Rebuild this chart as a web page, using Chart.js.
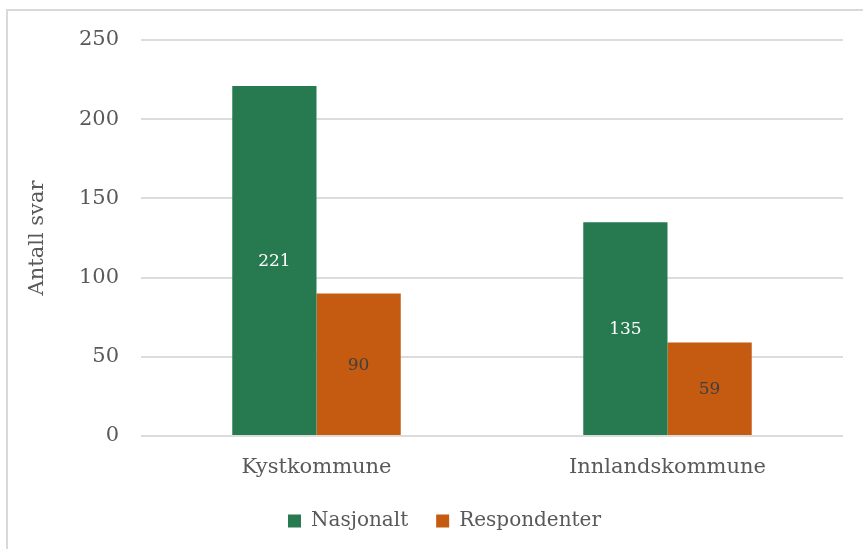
<!DOCTYPE html>
<html>
<head>
<meta charset="utf-8">
<script src="https://cdn.jsdelivr.net/npm/chart.js@4/dist/chart.umd.min.js"></script>
<style>
  html, body { margin: 0; padding: 0; background: #fff; overflow: hidden; }
  #frame { position: absolute; left: 6px; top: 9px; width: 1000px; height: 1000px;
           border-left: 2px solid #d9d9d9; border-top: 2px solid #d9d9d9; }
  #chart { position: absolute; left: 0; top: 0; }
</style>
</head>
<body>
<div id="frame"></div>
<canvas id="chart" width="863" height="549"></canvas>
<script>
// data
const categories = ['Kystkommune', 'Innlandskommune'];
const nasjonalt = [221, 135];
const respondenter = [90, 59];
const yTicks = [0, 50, 100, 150, 200, 250];

const FONT = "'DejaVu Serif', serif";

// write the value in the middle of each bar
const barLabels = {
  id: 'barLabels',
  afterDatasetsDraw(chart) {
    const ctx = chart.ctx;
    ctx.save();
    ctx.font = '17px ' + FONT;
    ctx.textAlign = 'center';
    ctx.textBaseline = 'middle';
    chart.data.datasets.forEach((ds, i) => {
      chart.getDatasetMeta(i).data.forEach((bar, j) => {
        ctx.fillStyle = ds.labelColor;
        ctx.fillText(ds.data[j], bar.x, (bar.y + bar.base) / 2 + 1);
      });
    });
    ctx.restore();
  }
};

// legend in the original sits a bit right of the plot centre
const legendShift = {
  id: 'legendShift',
  afterLayout(chart) {
    chart.legend.left += 23;
    chart.legend.right += 23;
  }
};

new Chart(document.getElementById('chart'), {
  type: 'bar',
  data: {
    labels: categories,
    datasets: [
      { label: 'Nasjonalt', data: nasjonalt, backgroundColor: '#277a50', labelColor: '#ffffff' },
      { label: 'Respondenter', data: respondenter, backgroundColor: '#c55a11', labelColor: '#404040' }
    ]
  },
  options: {
    responsive: false,
    animation: false,
    categoryPercentage: 0.48,
    barPercentage: 1,
    layout: { padding: { top: 40, right: 20, bottom: 8, left: 0 } },
    plugins: {
      tooltip: { enabled: false },
      legend: {
        position: 'bottom',
        labels: {
          font: { family: FONT, size: 20 },
          color: '#595959',
          boxWidth: 13,
          boxHeight: 13,
          padding: 28
        }
      }
    },
    scales: {
      x: {
        grid: { display: false },
        border: { display: false },
        ticks: { font: { family: FONT, size: 21 }, color: '#595959', padding: 11 },
        afterFit(scale) { scale.height = 47; }
      },
      y: {
        min: 0,
        max: 250,
        afterBuildTicks(scale) { scale.ticks = yTicks.map(v => ({ value: v })); },
        grid: { color: '#dcdcdc', lineWidth: 2, drawTicks: false },
        border: { display: false },
        ticks: { font: { family: FONT, size: 21 }, color: '#595959', padding: 22 },
        title: {
          display: true,
          text: 'Antall svar',
          font: { family: FONT, size: 21 },
          color: '#595959',
          padding: { top: 25, bottom: 0 }
        },
        afterFit(scale) { scale.width = 141; }
      }
    }
  },
  plugins: [barLabels, legendShift]
});
</script>
</body>
</html>
